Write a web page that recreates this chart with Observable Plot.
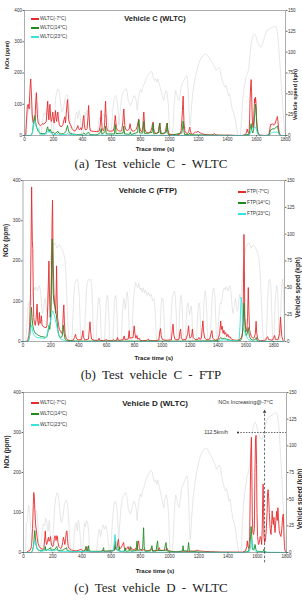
<!DOCTYPE html>
<html><head><meta charset="utf-8">
<script src="https://cdn.jsdelivr.net/npm/d3@7"></script>
<script src="https://cdn.jsdelivr.net/npm/@observablehq/plot@0.6"></script>
<style>
html,body{margin:0;padding:0;background:#fff}
body{width:302px;height:602px;position:relative;overflow:hidden;font-family:"Liberation Sans Narrow","Liberation Sans",Arial,sans-serif}
.panel{position:absolute;left:0;width:302px}
.panel svg{background:none!important;overflow:visible}
.caption{position:absolute;left:0;width:302px;text-align:center;font-family:"Liberation Serif","Times New Roman",serif;font-size:13px;line-height:16px;word-spacing:3px;color:#222}
.leg{position:absolute;font-size:4.8px;line-height:6px;color:#333;white-space:nowrap}
.leg i{position:absolute;left:0;top:2px;width:8px;height:1.5px}
.leg b{font-weight:normal;position:absolute;left:9px;top:0}
</style></head><body>
<div id="pa" class="panel" style="top:0px"></div>
<div id="pb" class="panel" style="top:170px"></div>
<div id="pc" class="panel" style="top:382px"></div>
<script>
// ---------- data ----------
const titles = ["Vehicle C (WLTC)", "Vehicle C (FTP)", "Vehicle D (WLTC)"];
const captions = ["(a)  Test  vehicle  C  -  WLTC", "(b)  Test  vehicle  C  -  FTP", "(c)  Test  vehicle  D  -  WLTC"];
const legendA = ["WLTC(-7\u00b0C)", "WLTC(14\u00b0C)", "WLTC(23\u00b0C)"];
const legendB = ["FTP(-7\u00b0C)", "FTP(14\u00b0C)", "FTP(23\u00b0C)"];
const legendC = ["WLTC(-7\u00b0C)", "WLTC(14\u00b0C)", "WLTC(23\u00b0C)"];
const seriesColors = ["#e62a2d", "#1f8c22", "#35e2dc"];
const speedColor = "#d6d6d6";
const xTicks = [0, 200, 400, 600, 800, 1000, 1200, 1400, 1600, 1800];
const noxTicks = [0, 100, 200, 300, 400];
const speedTicks = [0, 25, 50, 75, 100, 125, 150];
const axisLabels = ["NOx (ppm)", "Vehicle speed (kph)", "Trace time (s)"];
const annotation = [{time: 1650, speed: 112.5, label: "112.5km/h", note: "NOx Increasing@-7\u00b0C", arrowFrom: 1800, arrowTo: 1468, lineTop: 352, lineBottom: -26}];

// vehicle speed traces [time s, kph]
const wltcSpeed = [[0,0],[11,0],[15,10],[20,27],[26,29],[32,41],[36,44.5],[40,42],[45,32],[50,21],[56,18],[60,12],[66,12.5],[72,17],[78,27],[83,36],[88,39.5],[92,37],[96,34],[100,22],[104,5],[106,0],[115,0],[120,10],[128,20],[135,27],[145,25],[152,32],[160,28],[168,20],[176,30],[182,20],[188,6],[195,0],[200,12],[208,30],[215,45],[222,52],[230,56],[238,54],[245,45],[252,35],[258,28],[265,30],[272,36],[280,45],[290,49],[298,48],[305,40],[312,25],[318,10],[322,0],[340,0],[345,10],[352,25],[360,28],[368,20],[375,30],[382,26],[390,12],[395,0],[405,0],[410,15],[418,28],[425,24],[432,30],[440,27],[447,18],[452,0],[500,0],[505,8],[512,18],[520,22],[528,15],[535,20],[545,26],[555,22],[565,25],[575,18],[582,8],[589,0],[596,0],[603,15],[610,32],[618,44],[628,48],[636,45],[642,38],[648,20],[652,12],[658,25],[666,40],[675,50],[688,54],[700,56],[708,52],[716,42],[724,38],[732,36],[740,40],[748,44],[756,48],[764,46],[772,40],[778,30],[784,42],[792,50],[800,55],[808,52],[816,58],[826,62],[838,68],[850,72],[862,75],[872,77],[880,76],[888,70],[896,66],[904,68],[912,64],[920,68],[928,62],[936,58],[944,52],[952,46],[960,42],[968,50],[976,54],[984,50],[992,38],[998,15],[1003,0],[1018,0],[1024,12],[1030,30],[1036,45],[1042,54],[1050,50],[1058,44],[1066,42],[1074,50],[1082,60],[1092,64],[1100,66],[1110,70],[1118,72],[1124,68],[1130,50],[1136,25],[1140,12],[1146,18],[1152,35],[1160,50],[1170,62],[1180,72],[1192,80],[1205,88],[1218,93],[1232,96],[1245,98],[1258,97],[1270,94],[1285,90],[1300,86],[1312,82],[1322,78],[1330,80],[1340,82],[1348,80],[1356,72],[1364,66],[1372,62],[1382,58],[1390,60],[1398,55],[1406,48],[1414,50],[1422,42],[1432,32],[1442,28],[1450,22],[1458,14],[1466,6],[1472,0],[1488,0],[1494,12],[1500,30],[1506,45],[1514,56],[1522,64],[1530,72],[1538,74],[1546,80],[1554,95],[1562,108],[1570,116],[1578,120],[1586,122],[1594,120],[1602,115],[1612,110],[1622,107],[1632,106],[1642,110],[1652,116],[1662,122],[1672,126],[1682,127],[1692,128],[1702,129],[1712,130],[1722,131],[1732,131],[1740,128],[1748,118],[1756,100],[1764,80],[1772,58],[1780,38],[1788,18],[1795,4],[1800,0]];
const ftpSpeed = [[0,0],[20,0],[24,8],[28,18],[33,28],[38,34],[44,37],[50,36],[56,34],[62,40],[68,46],[74,49],[80,50],[86,48],[92,51],[98,50],[104,47],[110,49],[116,52],[122,50],[128,44],[134,32],[140,26],[146,30],[152,36],[158,40],[164,34],[170,28],[176,36],[182,50],[188,62],[194,72],[200,80],[206,85],[212,88],[220,91],[228,92],[236,90],[244,87],[252,88],[260,90],[268,89],[276,87],[284,85],[292,82],[300,78],[306,68],[312,50],[318,30],[324,12],[330,0],[350,0],[356,15],[362,35],[368,48],[374,55],[380,57],[388,58],[396,55],[404,42],[410,20],[415,0],[440,0],[446,20],[452,40],[458,52],[464,56],[472,58],[480,57],[488,58],[494,50],[500,30],[505,0],[525,0],[530,15],[536,32],[542,41],[548,40],[554,30],[560,10],[565,0],[585,0],[590,15],[597,35],[604,43],[610,40],[616,25],[621,0],[645,0],[650,18],[657,38],[664,43],[670,40],[676,20],[681,0],[705,0],[710,15],[716,32],[722,40],[728,38],[734,30],[740,38],[748,46],[754,40],[760,20],[765,0],[780,0],[786,20],[792,38],[800,48],[808,55],[816,52],[824,50],[832,54],[840,48],[848,50],[856,46],[864,50],[872,45],[880,48],[890,43],[900,46],[910,42],[920,44],[930,38],[940,40],[948,30],[954,12],[960,0],[980,0],[986,18],[992,35],[998,41],[1004,40],[1010,30],[1016,10],[1020,0],[1055,0],[1060,15],[1066,30],[1072,40],[1080,45],[1087,47],[1094,42],[1100,25],[1105,0],[1115,0],[1120,15],[1127,35],[1134,43],[1140,38],[1146,20],[1150,0],[1165,0],[1170,15],[1177,32],[1183,36],[1190,30],[1196,25],[1202,30],[1207,33],[1213,25],[1218,0],[1245,0],[1250,15],[1257,30],[1263,36],[1270,32],[1275,10],[1280,0],[1290,0],[1294,18],[1300,38],[1308,47],[1314,42],[1320,25],[1325,0],[1345,0],[1350,20],[1357,40],[1364,48],[1371,50],[1378,42],[1384,20],[1389,0],[1395,0],[1400,10],[1405,22],[1411,32],[1417,36],[1423,35],[1429,40],[1435,46],[1441,49],[1447,50],[1453,48],[1459,51],[1465,50],[1471,47],[1477,49],[1483,52],[1489,50],[1495,44],[1501,32],[1507,26],[1513,30],[1519,36],[1525,40],[1531,34],[1537,28],[1543,30],[1549,38],[1555,44],[1561,40],[1567,46],[1573,56],[1579,66],[1585,75],[1591,82],[1597,86],[1605,89],[1613,91],[1621,92],[1629,90],[1637,87],[1645,88],[1653,90],[1661,89],[1669,87],[1677,85],[1685,82],[1693,78],[1700,68],[1707,50],[1714,30],[1720,12],[1726,0],[1745,0],[1750,15],[1755,35],[1760,50],[1766,57],[1772,58],[1778,52],[1784,35],[1789,12],[1792,0],[1800,0],[1805,18],[1810,38],[1816,48],[1822,52],[1828,45],[1834,25],[1838,0],[1845,0],[1849,20],[1853,40],[1858,54],[1864,58],[1869,50],[1874,30],[1877,0]];

// NOx traces [time s, ppm]
const cWltcM7 = [[0,0],[8,0],[14,50],[20,95],[26,100],[32,85],[38,150],[43,181],[48,130],[53,70],[58,45],[63,38],[68,45],[73,60],[78,110],[82,137],[86,95],[90,55],[95,40],[102,35],[110,32],[118,35],[126,38],[134,36],[142,40],[150,45],[155,80],[160,110],[164,70],[168,50],[172,90],[176,100],[180,60],[185,45],[190,55],[195,75],[200,50],[205,40],[210,60],[214,80],[218,55],[222,45],[226,65],[230,75],[235,50],[240,35],[245,30],[252,28],[258,30],[265,35],[272,50],[278,60],[283,40],[288,70],[293,100],[297,115],[301,80],[305,50],[310,40],[316,35],[322,30],[328,22],[335,18],[342,15],[350,15],[358,20],[365,28],[368,32],[372,22],[380,18],[388,25],[394,18],[400,30],[405,55],[409,64],[413,35],[418,20],[425,18],[432,22],[438,60],[442,96],[446,60],[450,25],[456,15],[465,14],[480,13],[500,13],[515,14],[522,30],[526,60],[529,80],[532,45],[536,18],[545,15],[552,30],[556,80],[559,110],[562,70],[566,30],[572,16],[585,14],[600,14],[612,15],[618,25],[622,45],[626,64],[630,45],[634,25],[640,18],[650,15],[660,14],[670,15],[678,40],[682,70],[685,85],[688,60],[692,30],[700,18],[710,16],[722,20],[728,38],[732,25],[740,15],[752,14],[762,16],[770,20],[778,30],[784,45],[788,53],[792,30],[800,15],[810,12],[816,30],[820,60],[823,75],[826,50],[830,20],[840,10],[855,8],[870,12],[878,25],[884,40],[887,43],[890,25],[896,10],[910,6],[922,10],[928,30],[933,40],[937,20],[945,6],[960,5],[972,12],[978,30],[984,40],[988,20],[995,6],[1010,3],[1030,2],[1050,2],[1070,4],[1080,15],[1087,60],[1091,100],[1094,126],[1097,80],[1100,40],[1106,15],[1115,8],[1125,6],[1132,12],[1137,22],[1140,27],[1144,15],[1150,6],[1160,4],[1172,8],[1180,12],[1188,10],[1196,14],[1204,10],[1212,8],[1222,6],[1235,4],[1250,3],[1270,2],[1290,2],[1305,4],[1312,6],[1320,2],[1340,1],[1380,1],[1420,1],[1460,0],[1500,0],[1520,2],[1530,8],[1536,21],[1540,12],[1548,6],[1552,40],[1556,120],[1560,160],[1563,179],[1566,140],[1569,80],[1572,40],[1576,25],[1580,40],[1584,90],[1587,118],[1590,105],[1593,123],[1596,110],[1600,60],[1605,25],[1610,10],[1618,3],[1630,1],[1660,0],[1685,2],[1690,15],[1695,30],[1700,37],[1706,35],[1712,38],[1718,33],[1724,36],[1730,40],[1736,50],[1740,55],[1744,61],[1748,45],[1752,25],[1756,10],[1762,2],[1770,0],[1800,0]];
const cWltc14 = [[0,0],[40,0],[48,3],[55,10],[60,30],[64,50],[68,60],[72,64],[76,45],[80,35],[85,25],[90,18],[96,12],[105,8],[120,6],[140,6],[150,10],[155,22],[160,28],[164,18],[170,12],[176,20],[182,14],[190,8],[200,10],[210,6],[222,10],[230,14],[236,8],[250,5],[270,6],[285,12],[292,25],[297,32],[302,18],[310,8],[330,5],[360,3],[400,4],[409,8],[420,3],[442,10],[450,3],[500,2],[524,10],[529,22],[534,4],[555,12],[559,30],[564,5],[620,5],[626,35],[632,6],[680,8],[685,30],[690,5],[725,4],[730,12],[736,3],[780,10],[788,50],[794,8],[816,8],[823,45],[829,6],[880,10],[887,38],[892,5],[927,10],[933,40],[938,5],[978,10],[984,40],[990,4],[1010,1],[1085,8],[1091,30],[1094,46],[1098,20],[1104,3],[1135,3],[1140,8],[1145,2],[1200,2],[1300,1],[1500,0],[1550,4],[1556,20],[1563,38],[1568,15],[1575,8],[1580,20],[1585,50],[1590,80],[1593,100],[1597,85],[1601,40],[1606,15],[1612,4],[1625,0],[1685,0],[1692,10],[1698,18],[1706,20],[1714,22],[1722,20],[1730,24],[1738,28],[1744,30],[1750,18],[1756,5],[1764,0],[1800,0]];
const cWltc23 = [[0,0],[45,0],[52,5],[58,20],[63,38],[67,46],[71,48],[75,40],[79,30],[84,26],[90,24],[96,20],[102,10],[110,4],[130,2],[150,5],[156,12],[162,16],[168,10],[175,14],[182,8],[190,3],[220,3],[228,6],[235,3],[290,3],[297,8],[303,3],[400,1],[800,1],[1000,0],[1550,0],[1556,6],[1562,15],[1568,20],[1575,22],[1582,24],[1588,27],[1594,25],[1600,18],[1606,8],[1614,2],[1625,0],[1690,0],[1696,5],[1704,9],[1712,10],[1722,11],[1732,10],[1742,12],[1750,8],[1758,2],[1766,0],[1800,0]];

const cFtpM7 = [[0,0],[25,0],[35,5],[42,15],[48,40],[54,120],[58,250],[62,384],[65,300],[67,250],[70,231],[73,140],[77,60],[82,45],[88,40],[94,55],[101,93],[106,50],[112,40],[118,72],[122,45],[128,50],[132,64],[136,42],[142,38],[150,36],[158,35],[165,34],[172,40],[178,90],[183,160],[186,200],[190,120],[195,60],[200,80],[205,200],[209,300],[212,351],[215,250],[218,180],[222,120],[228,90],[234,70],[238,120],[241,188],[244,120],[248,60],[255,40],[262,30],[270,25],[278,20],[284,30],[289,70],[293,91],[297,50],[302,20],[310,8],[320,4],[340,2],[360,3],[370,10],[377,18],[382,8],[395,4],[420,5],[427,20],[430,27],[434,10],[445,4],[470,6],[476,30],[481,49],[485,25],[492,6],[510,3],[540,3],[546,8],[550,3],[580,2],[600,5],[605,2],[640,2],[650,5],[655,2],[672,3],[678,10],[683,3],[718,4],[726,14],[731,5],[755,6],[762,27],[767,8],[790,10],[798,39],[803,20],[810,8],[818,15],[823,6],[835,8],[840,3],[860,2],[890,3],[900,6],[905,2],[950,2],[975,4],[982,25],[987,32],[992,15],[1000,5],[1020,3],[1065,4],[1072,30],[1077,43],[1082,18],[1090,6],[1105,4],[1120,6],[1127,25],[1131,31],[1136,10],[1145,4],[1170,5],[1182,20],[1188,39],[1193,20],[1198,8],[1210,12],[1216,31],[1222,10],[1235,5],[1255,5],[1262,10],[1270,5],[1280,8],[1287,35],[1291,51],[1296,25],[1305,8],[1320,4],[1340,6],[1350,20],[1356,27],[1362,8],[1380,3],[1400,5],[1412,20],[1419,51],[1424,30],[1430,38],[1436,20],[1442,28],[1448,18],[1455,22],[1462,12],[1470,18],[1478,10],[1486,12],[1495,6],[1510,4],[1530,3],[1550,4],[1565,8],[1572,15],[1578,30],[1582,120],[1586,266],[1589,180],[1592,60],[1596,40],[1600,30],[1606,25],[1612,60],[1617,134],[1621,80],[1626,30],[1632,20],[1640,12],[1650,8],[1660,10],[1668,20],[1673,50],[1678,20],[1686,5],[1700,2],[1740,3],[1750,10],[1756,12],[1762,5],[1790,3],[1800,10],[1806,15],[1812,5],[1830,4],[1842,20],[1848,61],[1852,40],[1858,12],[1866,4],[1870,0]];
const cFtp14 = [[0,0],[35,0],[42,5],[48,15],[53,35],[57,60],[61,85],[65,60],[70,40],[76,30],[82,25],[90,20],[100,18],[110,15],[120,14],[130,12],[145,12],[160,10],[172,12],[180,25],[186,40],[192,30],[198,50],[203,120],[207,200],[210,255],[213,180],[217,120],[221,100],[226,90],[232,85],[238,70],[244,50],[250,30],[258,15],[268,10],[280,12],[287,25],[291,40],[295,20],[302,6],[315,2],[400,1],[800,1],[1200,1],[1400,2],[1410,6],[1420,10],[1430,6],[1445,8],[1460,6],[1480,4],[1500,2],[1560,2],[1570,8],[1576,20],[1580,50],[1584,80],[1587,95],[1591,60],[1595,30],[1602,15],[1610,20],[1616,35],[1620,25],[1626,12],[1635,6],[1650,3],[1670,6],[1674,10],[1680,2],[1700,0],[1870,0]];
const cFtp23 = [[0,0],[35,0],[42,5],[48,15],[54,30],[58,38],[62,40],[66,32],[72,22],[80,15],[90,12],[100,10],[120,9],[140,8],[160,8],[172,15],[180,30],[188,40],[195,48],[202,60],[208,72],[214,76],[220,70],[226,65],[232,55],[238,45],[245,35],[252,22],[260,12],[270,6],[285,4],[300,2],[320,0],[1400,0],[1420,3],[1440,4],[1460,3],[1500,2],[1540,2],[1552,8],[1558,40],[1562,80],[1566,110],[1570,100],[1574,60],[1578,40],[1584,30],[1590,25],[1596,20],[1604,12],[1612,8],[1625,3],[1640,1],[1870,0]];

const dWltcM7 = [[0,0],[20,0],[30,3],[45,5],[55,15],[62,60],[67,120],[70,150],[74,140],[78,100],[83,70],[88,55],[94,35],[100,22],[108,15],[118,10],[130,8],[140,12],[146,40],[149,54],[153,30],[158,20],[164,25],[168,35],[171,38],[175,28],[180,32],[185,40],[189,25],[194,18],[200,15],[206,20],[211,35],[215,42],[219,38],[223,30],[228,42],[232,40],[236,25],[242,15],[248,12],[255,10],[262,14],[268,25],[273,38],[278,30],[283,20],[288,35],[293,50],[297,54],[301,35],[306,15],[312,10],[320,8],[330,6],[345,5],[360,4],[380,6],[395,8],[400,6],[410,3],[428,10],[434,15],[438,5],[460,2],[520,2],[540,4],[545,6],[548,3],[600,3],[620,5],[628,15],[632,8],[640,10],[646,28],[650,33],[654,15],[660,10],[668,12],[676,18],[681,22],[685,25],[690,12],[698,8],[710,10],[716,15],[720,8],[730,10],[738,12],[745,6],[760,8],[768,10],[775,5],[782,20],[788,29],[793,12],[800,6],[815,5],[825,8],[835,4],[860,5],[870,8],[880,10],[885,4],[920,5],[930,12],[935,5],[980,6],[985,10],[990,4],[1030,2],[1100,2],[1150,3],[1180,4],[1188,6],[1200,4],[1230,3],[1280,2],[1350,1],[1420,1],[1500,1],[1520,4],[1528,15],[1532,29],[1536,15],[1542,10],[1548,40],[1552,150],[1556,250],[1560,288],[1563,200],[1566,90],[1570,50],[1575,45],[1580,60],[1584,200],[1588,285],[1592,293],[1595,220],[1598,100],[1602,40],[1608,20],[1614,25],[1620,40],[1626,35],[1630,20],[1634,60],[1637,130],[1640,171],[1643,110],[1646,40],[1650,25],[1656,30],[1662,60],[1667,100],[1671,150],[1674,157],[1678,138],[1682,100],[1688,60],[1694,45],[1698,70],[1702,104],[1706,80],[1710,70],[1714,88],[1718,60],[1722,50],[1727,80],[1732,103],[1737,80],[1741,112],[1745,88],[1750,55],[1756,45],[1762,40],[1768,60],[1774,90],[1778,96],[1782,50],[1786,15],[1790,4],[1800,0]];
const dWltc14 = [[0,0],[50,0],[60,3],[68,15],[73,35],[77,55],[81,40],[86,20],[92,10],[100,6],[120,4],[145,8],[149,15],[153,5],[170,8],[185,12],[190,5],[215,8],[228,15],[234,5],[270,6],[295,12],[299,5],[330,2],[420,3],[427,15],[431,3],[440,5],[445,17],[449,3],[540,3],[548,12],[552,3],[620,5],[628,30],[632,8],[650,5],[655,15],[660,3],[690,3],[695,12],[700,3],[725,4],[731,15],[736,3],[770,5],[777,29],[782,5],[815,8],[820,45],[822,62],[826,15],[832,3],[870,4],[879,17],[884,3],[908,4],[913,20],[918,29],[922,5],[965,5],[972,22],[976,25],[980,4],[1050,1],[1088,4],[1092,17],[1096,4],[1124,4],[1130,25],[1135,4],[1200,1],[1500,0],[1540,3],[1550,20],[1555,45],[1558,65],[1562,40],[1566,12],[1572,6],[1580,10],[1585,20],[1590,8],[1600,3],[1640,2],[1645,8],[1650,2],[1670,0],[1800,0]];
const dWltc23 = [[0,0],[55,0],[62,5],[68,15],[72,25],[76,30],[80,28],[85,20],[90,12],[100,6],[120,3],[150,5],[160,8],[170,5],[200,6],[210,4],[230,8],[240,3],[300,3],[600,1],[615,5],[620,20],[624,40],[627,45],[631,30],[636,12],[642,5],[655,3],[700,1],[1500,0],[1545,2],[1552,10],[1558,25],[1562,34],[1566,25],[1572,12],[1580,6],[1590,3],[1610,1],[1800,0]];

// ---------- drawing ----------
const narrow = "'Liberation Sans Narrow','Liberation Sans',Arial,sans-serif";
const k = 400 / 150; // speed -> NOx scale

function panel(o) {
  const t = d => d[0], v = d => d[1];
  const marks = [
    Plot.line(o.speed, {x: t, y: d => d[1] * k, stroke: speedColor, strokeWidth: 0.6}),
    Plot.line(o.series[0], {x: t, y: v, stroke: seriesColors[0], strokeWidth: 0.9}),
    Plot.line(o.series[1], {x: t, y: v, stroke: seriesColors[1], strokeWidth: 0.9}),
    Plot.line(o.series[2], {x: t, y: v, stroke: seriesColors[2], strokeWidth: 0.9}),
    Plot.frame({stroke: "#777", strokeWidth: 0.6}),
    Plot.axisX({ticks: xTicks, tickFormat: d => String(d), tickSize: 1.5, tickPadding: 1, label: null, stroke: "#666"}),
    Plot.axisY({ticks: noxTicks, tickFormat: d => String(d), tickSize: 1.5, tickPadding: 1, label: null, stroke: "#666"}),
    Plot.axisY(speedTicks.map(s => s * k), {anchor: "right", tickFormat: d => String(Math.round(d / k)), tickSize: 1.5, tickPadding: 1, label: null, stroke: "#666"}),
    Plot.text([o.title], {text: d => d, frameAnchor: "top", dy: o.titleDy, dx: o.titleDx, fontWeight: "bold", fontSize: o.titleSize, fill: "#222"}),
    Plot.text([axisLabels[0]], {text: d => d, frameAnchor: "left", rotate: -90, dx: -17, dy: -4, fontWeight: "bold", fontSize: o.labSize, fill: "#222"}),
    Plot.text([axisLabels[1]], {text: d => d, frameAnchor: "right", rotate: -90, dx: o.rDx, dy: -4, fontWeight: "bold", fontSize: o.labSize, fill: "#222"}),
    Plot.text([axisLabels[2]], {text: d => d, frameAnchor: "bottom", dy: o.xLabDy, dx: 0, fontWeight: "bold", fontSize: 6, fill: "#222"}),
    ...(o.extra || [])
  ];
  return Plot.plot({
    width: 302, height: o.height,
    marginTop: o.mt, marginBottom: o.height - o.mt - o.frameH,
    marginLeft: o.ml, marginRight: o.mr,
    x: {domain: [0, o.xMax]},
    y: {domain: [0, 400]},
    style: {fontFamily: narrow, fontSize: "4.6px", color: "#333", background: "none", overflow: "visible"},
    marks
  });
}

function legend(el, labels, left, tops) {
  labels.forEach((lab, i) => {
    const d = document.createElement("div");
    d.className = "leg";
    d.style.left = left + "px";
    d.style.top = Math.round(tops[i] - 3) + "px";
    d.innerHTML = `<i style="background:${seriesColors[i]}"></i><b>${lab}</b>`;
    el.appendChild(d);
  });
}

function caption(text, top) {
  const d = document.createElement("div");
  d.className = "caption";
  d.style.top = top + "px";
  d.textContent = text;
  document.body.appendChild(d);
}

const pa = document.getElementById("pa");
pa.appendChild(panel({height: 157, mt: 10, frameH: 125, ml: 24, mr: 17, xMax: 1800, speed: wltcSpeed,
  series: [cWltcM7, cWltc14, cWltc23], title: titles[0], titleDy: 5, titleDx: 0, titleSize: 7.5, labSize: 5.5, rDx: 10, xLabDy: 15}));
legend(pa, legendA, 31, [19, 28, 37]);

const pb = document.getElementById("pb");
pb.appendChild(panel({height: 193, mt: 10, frameH: 161, ml: 22.5, mr: 18, xMax: 1877, speed: ftpSpeed,
  series: [cFtpM7, cFtp14, cFtp23], title: titles[1], titleDy: 7, titleDx: -6, titleSize: 8, labSize: 6.5, rDx: 13, xLabDy: 18}));
legend(pb, legendB, 238, [22, 33, 44]);

const pc = document.getElementById("pc");
const annExtra = [
  Plot.ruleX(annotation, {x: "time", y1: "lineBottom", y2: "lineTop", stroke: "#444", strokeWidth: 0.8, strokeDasharray: "2.5,1.8"}),
  Plot.dot(annotation, {x: "time", y: "lineTop", symbol: "triangle", r: 1.3, fill: "#333", stroke: "none"}),
  Plot.ruleY(annotation, {y: d => d.speed * k, x1: "arrowTo", x2: "arrowFrom", stroke: "#444", strokeWidth: 0.8, strokeDasharray: "1.5,1.3"}),
  Plot.dot(annotation, {x: "arrowTo", y: d => d.speed * k, r: 0.9, fill: "#222", stroke: "none"}),
  Plot.text(annotation, {x: "arrowTo", y: d => d.speed * k, text: "label", textAnchor: "end", dx: -10, fontSize: 5.2, fill: "#333"}),
  Plot.text(annotation, {x: "time", text: "note", frameAnchor: "top", dy: 8, dx: -19, fontSize: 5.5, fill: "#333"})
];
pc.appendChild(panel({height: 192, mt: 10, frameH: 160, ml: 23, mr: 16, xMax: 1800, speed: wltcSpeed,
  series: [dWltcM7, dWltc14, dWltc23], title: titles[2], titleDy: 8, titleDx: 0, titleSize: 8, labSize: 6.5, rDx: 13, xLabDy: 20, extra: annExtra}));
legend(pc, legendC, 31, [21, 32, 43]);

caption(captions[0], 156);
caption(captions[1], 367);
caption(captions[2], 580);
</script>
</body></html>
